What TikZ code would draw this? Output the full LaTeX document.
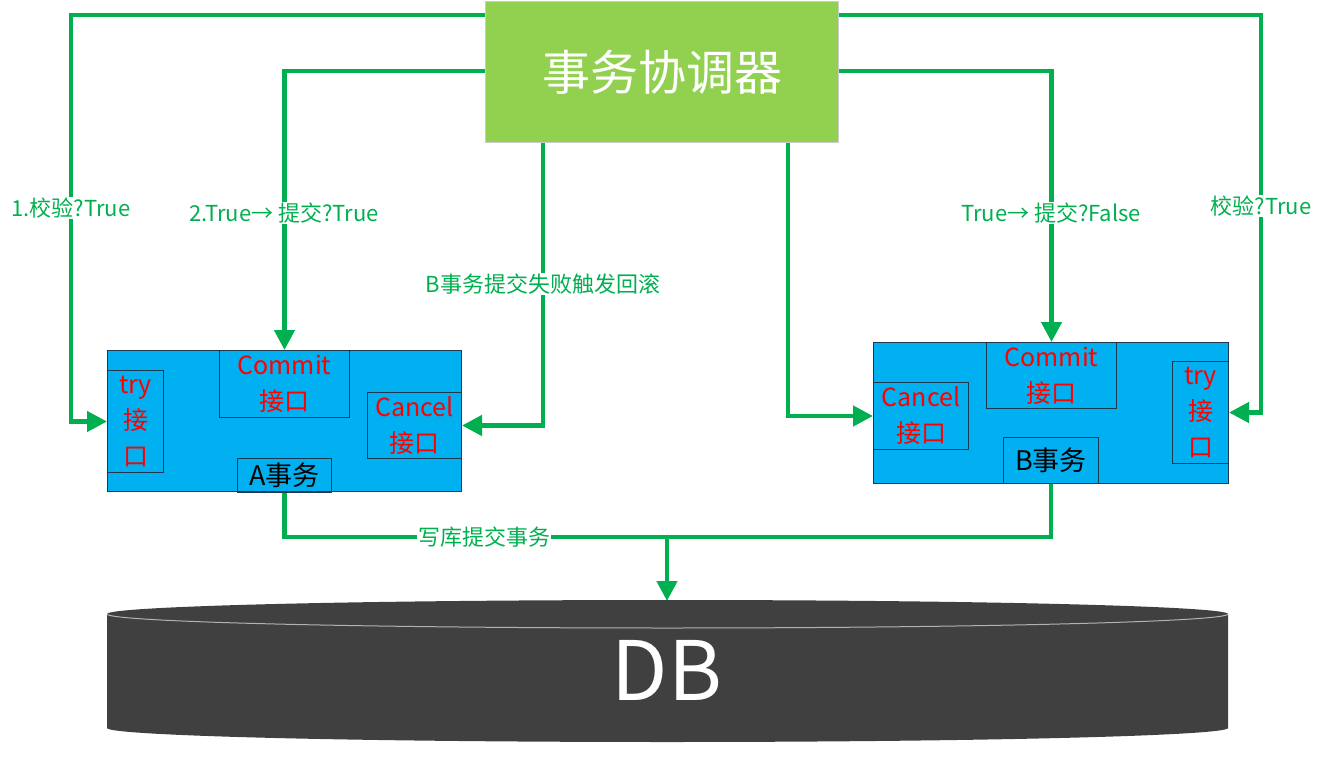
\documentclass[tikz,border=0pt]{standalone}
\usepackage{fontspec}
\setmainfont{Noto Sans CJK SC}
\usetikzlibrary{arrows.meta}
\definecolor{coordgreen}{HTML}{92D050}
\definecolor{flowgreen}{HTML}{00B050}
\definecolor{txblue}{HTML}{00B0F0}
\definecolor{boxline}{HTML}{1F3A50}
\definecolor{dbgray}{HTML}{404040}

\begin{document}
\begin{tikzpicture}[x=1pt,y=1pt,
  coordbox/.style={fill=coordgreen,draw=gray!40,line width=1pt,text=white,anchor=north west,inner sep=0pt,font=\fontsize{48}{48}\selectfont},
  txbox/.style={fill=txblue,draw=boxline,line width=1pt,anchor=north west,inner sep=0pt},
  port/.style={draw=boxline,line width=1pt,anchor=north west,inner sep=0pt,text=red,align=center,font=\fontsize{25}{36}\selectfont},
  txname/.style={draw=boxline,line width=1pt,anchor=north west,inner sep=0pt,font=\fontsize{27}{27}\selectfont},
  flow/.style={draw=flowgreen,line width=4.5pt,-{Triangle[length=20pt,width=20pt]}},
  flowline/.style={draw=flowgreen,line width=4.5pt},
  lbl/.style={fill=white,text=flowgreen,inner sep=1pt,font=\fontsize{22}{22}\selectfont}]
  \useasboundingbox (0,0) rectangle (1325,-778);

  % coordinator
  \node[coordbox,minimum width=353,minimum height=141] (coordinator) at (485,-1) {事务协调器};

  % transaction A
  \node[txbox,minimum width=354,minimum height=141] (txA) at (107,-350) {};
  \node[port,minimum width=56,minimum height=102] (tryA) at (107,-370) {try\\接\\口};
  \node[port,minimum width=130,minimum height=67] (commitA) at (219,-350) {Commit\\接口};
  \node[port,minimum width=94,minimum height=66] (cancelA) at (367,-392) {Cancel\\接口};
  \node[txname,minimum width=94,minimum height=34] (nameA) at (237,-458) {A事务};

  % transaction B
  \node[txbox,minimum width=355,minimum height=141] (txB) at (873,-342) {};
  \node[port,minimum width=95,minimum height=67] (cancelB) at (873,-382) {Cancel\\接口};
  \node[port,minimum width=130,minimum height=66] (commitB) at (986,-342) {Commit\\接口};
  \node[port,minimum width=56,minimum height=102] (tryB) at (1172,-361) {try\\接\\口};
  \node[txname,minimum width=95,minimum height=46] (nameB) at (1003,-437) {B事务};

  % database
  \fill[dbgray] (107,-614) -- (107,-728) arc[start angle=180,end angle=360,x radius=560.5,y radius=14]
    -- (1228,-614) arc[start angle=0,end angle=180,x radius=560.5,y radius=14] -- cycle;
  \draw[gray!60,line width=1pt] (107,-614) arc[start angle=180,end angle=360,x radius=560.5,y radius=14];
  \node[text=white,font=\fontsize{82}{82}\selectfont] (db) at (667,-670) {DB};
  \coordinate (dbtop) at (667,-601);
  \coordinate (dbjoin) at (667,-537);

  % coordinator calls
  \draw[flow] ([yshift=-14]coordinator.north west) -| ([xshift=-36]tryA.west) -- (tryA.west);
  \draw[flow] ([yshift=-70]coordinator.north west) -| (commitA.north);
  \draw[flow] ([xshift=58]coordinator.south west) |- (cancelA.east);
  \draw[flow] ([xshift=-51]coordinator.south east) |- (cancelB.west);
  \draw[flow] ([yshift=-70]coordinator.north east) -| (commitB.north);
  \draw[flow] ([yshift=-14]coordinator.north east) -| ([xshift=32]tryB.east) -- (tryB.east);

  % commit to db
  \draw[flow] (nameA.south) |- (dbjoin) -- (dbtop);
  \draw[flowline] (nameB.south) |- (dbjoin);

  \node[lbl] (checkA) at (71,-208) {1.校验?True};
  \node[lbl] (submitA) at (284,-213) {2.True→ 提交?True};
  \node[lbl] (rollback) at (543,-284) {B事务提交失败触发回滚};
  \node[lbl] (submitB) at (1051,-213) {True→ 提交?False};
  \node[lbl] (checkB) at (1261,-206) {校验?True};
  \node[lbl] (write) at (484,-537) {写库提交事务};
\end{tikzpicture}
\end{document}
